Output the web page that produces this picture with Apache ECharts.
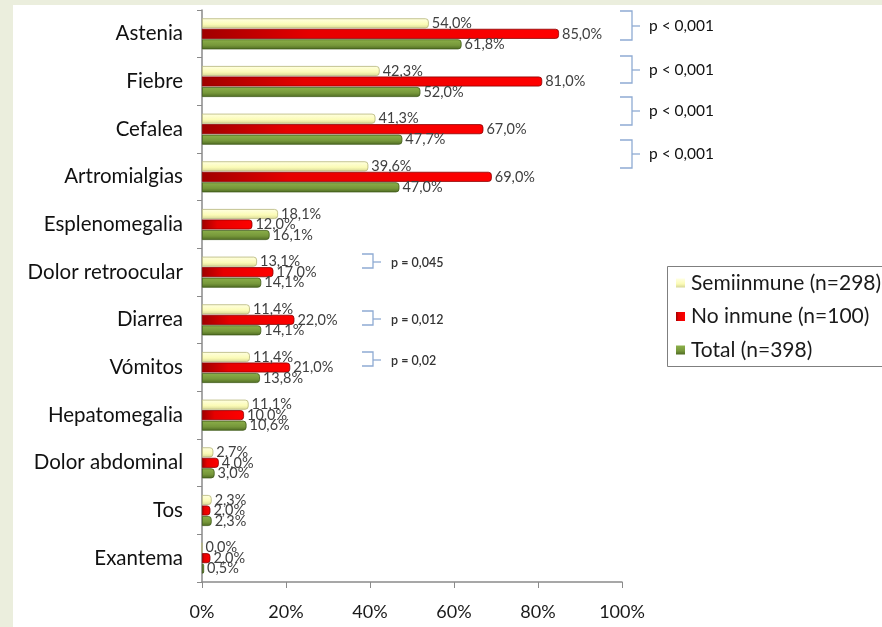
<!DOCTYPE html>
<html>
<head>
<meta charset="utf-8">
<script src="https://cdn.jsdelivr.net/npm/echarts@6/dist/echarts.min.js"></script>
<style>
  html, body { margin: 0; padding: 0; background: #ffffff; }
  #chart { width: 882px; height: 627px; }
</style>
</head>
<body>
<div id="chart"></div>
<script>
// Síntomas y porcentajes por grupo inmunitario
const categories = ['Astenia', 'Fiebre', 'Cefalea', 'Artromialgias', 'Esplenomegalia',
  'Dolor retroocular', 'Diarrea', 'Vómitos', 'Hepatomegalia', 'Dolor abdominal', 'Tos', 'Exantema'];
const semiinmune = [54.0, 42.3, 41.3, 39.6, 18.1, 13.1, 11.4, 11.4, 11.1, 2.7, 2.3, 0.0];
const noInmune   = [85.0, 81.0, 67.0, 69.0, 12.0, 17.0, 22.0, 21.0, 10.0, 4.0, 2.0, 2.0];
const total      = [61.8, 52.0, 47.7, 47.0, 16.1, 14.1, 14.1, 13.8, 10.6, 3.0, 2.3, 0.5];
const seriesNames = ['Semiinmune (n=298)', 'No inmune (n=100)', 'Total (n=398)'];
const xTicks = [0, 20, 40, 60, 80, 100];
// Significación estadística
const pMain = ['p < 0,001', 'p < 0,001', 'p < 0,001', 'p < 0,001'];
const pMinor = ['p = 0,045', 'p = 0,012', 'p = 0,02'];

const FONT = 'Lato, "Open Sans", sans-serif';
const fmtPct = v => v.toFixed(1).replace('.', ',') + '%';

function valueLabel() {
  return {
    show: true, position: 'right', distance: 3,
    fontFamily: FONT, fontSize: 14.5, color: '#404040',
    formatter: p => fmtPct(p.value)
  };
}

const yellowFill = new echarts.graphic.LinearGradient(0, 0, 0, 1, [
  { offset: 0, color: '#ffffe2' }, { offset: 0.6, color: '#fbfbb6' }, { offset: 1, color: '#d6d696' }
]);
const redFill = new echarts.graphic.LinearGradient(0, 0, 1, 0, [
  { offset: 0, color: '#a00000' }, { offset: 0.3, color: '#e60000' }, { offset: 1, color: '#ff0000' }
]);
const greenFill = new echarts.graphic.LinearGradient(0, 0, 0, 1, [
  { offset: 0, color: '#8cb04a' }, { offset: 0.6, color: '#76973a' }, { offset: 1, color: '#4e6a22' }
]);

// Corchetes de significación (anotaciones)
function bracket(x0, x1, y0, y1) {
  return {
    type: 'polyline', silent: true,
    shape: { points: [[x0, y0], [x1, y0], [x1, y1], [x0, y1]] },
    style: { stroke: '#8fabd3', lineWidth: 1.3, fill: null }
  };
}
function tick(x1, xt, yt) {
  return {
    type: 'line', silent: true,
    shape: { x1: x1, y1: yt, x2: xt, y2: yt },
    style: { stroke: '#8fabd3', lineWidth: 1.3 }
  };
}

const graphics = [
  { type: 'rect', silent: true, shape: { x: 0, y: 0, width: 882, height: 5 }, style: { fill: '#ebeedd' } },
  { type: 'rect', silent: true, shape: { x: 0, y: 0, width: 13, height: 627 }, style: { fill: '#ebeedd' } },
  // marco de la leyenda, que continúa más allá del borde derecho
  { type: 'rect', silent: true, z: -1,
    shape: { x: 667.5, y: 266.5, width: 260, height: 100 },
    style: { fill: '#ffffff', stroke: '#7f7f7f', lineWidth: 1 } }
];
const mainRows = [[11, 40, 26], [56, 83, 70], [97, 125, 111], [140, 168, 154]];
mainRows.forEach((r, i) => {
  graphics.push(bracket(620, 632, r[0], r[1]));
  graphics.push(tick(632, 640, r[2]));
  graphics.push({
    type: 'text', silent: true, x: 649, y: r[2],
    style: { text: pMain[i], font: '15.5px ' + FONT, fill: '#111', verticalAlign: 'middle' }
  });
});
const minorRows = [[254, 268, 262], [311, 325, 319], [352, 366, 360]];
minorRows.forEach((r, i) => {
  graphics.push(bracket(362, 373, r[0], r[1]));
  graphics.push(tick(373, 381, r[2]));
  graphics.push({
    type: 'text', silent: true, x: 391, y: r[2] + 1,
    style: { text: pMinor[i], font: '600 12.5px ' + FONT, fill: '#333', verticalAlign: 'middle' }
  });
});

const chart = echarts.init(document.getElementById('chart'), null, { renderer: 'canvas' });
chart.setOption({
  animation: false,
  backgroundColor: '#ffffff',
  grid: { left: 202, right: 260, top: 10, bottom: 45, containLabel: false },
  legend: {
    orient: 'vertical', left: 667, top: 266,
    padding: [6, 0, 6, 9],
    itemWidth: 9, itemHeight: 9, itemGap: 11.5, icon: 'rect',
    itemStyle: { borderWidth: 0 },
    textStyle: { fontFamily: FONT, fontSize: 21, color: '#1a1a1a', lineHeight: 22, padding: [0, 0, 0, 1] },
    data: seriesNames
  },
  xAxis: {
    type: 'value', min: 0, max: 100, interval: 20,
    axisLine: { show: true, lineStyle: { color: '#8a8a8a', width: 1.5 } },
    axisTick: { show: true, length: 6, lineStyle: { color: '#8a8a8a' } },
    splitLine: { show: false },
    axisLabel: {
      margin: 21, fontFamily: FONT, fontSize: 18, color: '#1a1a1a',
      formatter: v => xTicks.includes(v) ? v + '%' : ''
    }
  },
  yAxis: {
    type: 'category', inverse: true, data: categories,
    axisLine: { show: true, lineStyle: { color: '#8a8a8a', width: 1.5 } },
    axisTick: { show: true, length: 5, lineStyle: { color: '#8a8a8a' } },
    axisLabel: { margin: 19, fontFamily: FONT, fontSize: 20.5, color: '#111' }
  },
  series: [
    {
      name: seriesNames[0], type: 'bar', data: semiinmune, barWidth: 10, barGap: '5%',
      itemStyle: { color: yellowFill, borderColor: '#b5b57a', borderWidth: 0.8, borderRadius: [0, 3, 3, 0] },
      label: valueLabel()
    },
    {
      name: seriesNames[1], type: 'bar', data: noInmune, barWidth: 10,
      itemStyle: { color: redFill, borderColor: '#8a0000', borderWidth: 0.8, borderRadius: [0, 3, 3, 0] },
      label: valueLabel()
    },
    {
      name: seriesNames[2], type: 'bar', data: total, barWidth: 10,
      itemStyle: { color: greenFill, borderColor: '#3f5a18', borderWidth: 0.8, borderRadius: [0, 3, 3, 0] },
      label: valueLabel()
    }
  ],
  graphic: graphics
});
</script>
</body>
</html>
